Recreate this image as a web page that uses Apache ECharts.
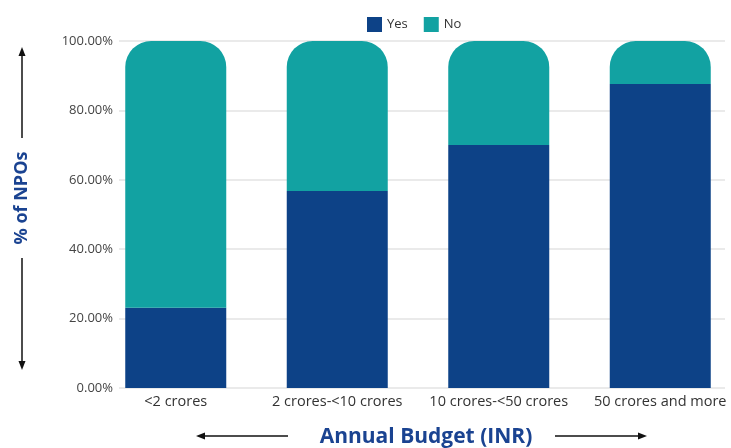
<!DOCTYPE html>
<html>
<head>
<meta charset="utf-8">
<script src="https://cdn.jsdelivr.net/npm/echarts@6/dist/echarts.min.js"></script>
<style>
  html, body { margin: 0; padding: 0; background: #fff; }
  #chart { width: 731px; height: 448px; }
</style>
</head>
<body>
<div id="chart"></div>
<script>
// Share of NPOs by annual budget band (percent)
const categories = ['<2 crores', '2 crores-<10 crores', '10 crores-<50 crores', '50 crores and more'];
const yesValues = [23.1, 56.8, 70.0, 87.6];
const noValues = [76.9, 43.2, 30.0, 12.4];
const yTicks = [0, 20, 40, 60, 80, 100];

const FONT = '"Open Sans", "Noto Sans", sans-serif';
const BLUE = '#0d4287';
const TEAL = '#12a2a2';
const TITLE = '#1a4391';

const chart = echarts.init(document.getElementById('chart'));

chart.setOption({
  animation: false,
  textStyle: { fontFamily: FONT },
  legend: {
    top: 12,
    left: 362,
    itemWidth: 15,
    itemHeight: 15,
    itemGap: 16,
    icon: 'rect',
    textStyle: { fontSize: 13, color: '#333', fontFamily: FONT },
    data: ['Yes', 'No']
  },
  grid: [
    // value grid: tick labels and gridlines
    { left: 119, right: 6, top: 41, bottom: 60, outerBoundsMode: 'none' },
    // band grid: bars and category labels
    { left: 95, width: 646, top: 41, bottom: 60, outerBoundsMode: 'none' }
  ],
  xAxis: [
    { gridIndex: 0, type: 'value', show: false },
    {
      gridIndex: 1,
      type: 'category',
      data: categories,
      axisLine: { show: false },
      axisTick: { show: false },
      axisLabel: {
        interval: 0,
        hideOverlap: false,
        fontSize: 14.5,
        color: '#333',
        margin: 6,
        fontFamily: FONT
      }
    }
  ],
  yAxis: [
    {
      gridIndex: 0,
      type: 'value',
      min: yTicks[0],
      max: yTicks[yTicks.length - 1],
      interval: 20,
      axisLine: { show: false },
      axisTick: { show: false },
      splitLine: { lineStyle: { color: '#e3e3e3', width: 1.5 } },
      axisLabel: {
        fontSize: 13,
        color: '#444',
        margin: 6,
        fontFamily: FONT,
        formatter: v => v.toFixed(2) + '%'
      }
    },
    {
      gridIndex: 1,
      type: 'value',
      min: yTicks[0],
      max: yTicks[yTicks.length - 1],
      show: false
    }
  ],
  series: [
    {
      name: 'Yes',
      type: 'bar',
      stack: 'share',
      xAxisIndex: 1,
      yAxisIndex: 1,
      barWidth: 101,
      itemStyle: { color: BLUE },
      data: yesValues
    },
    {
      name: 'No',
      type: 'bar',
      stack: 'share',
      xAxisIndex: 1,
      yAxisIndex: 1,
      barWidth: 101,
      itemStyle: { color: TEAL, borderRadius: [26, 26, 0, 0] },
      data: noValues
    }
  ],
  graphic: [
    // y-axis title with arrows above and below
    {
      type: 'text',
      x: 22, y: 198,
      rotation: Math.PI / 2,
      style: {
        text: '% of NPOs',
        font: 'bold 18px ' + FONT,
        fill: TITLE,
        align: 'center',
        verticalAlign: 'middle'
      }
    },
    {
      type: 'line',
      shape: { x1: 22, y1: 54, x2: 22, y2: 138 },
      style: { stroke: '#111', lineWidth: 1.5 }
    },
    {
      type: 'polygon',
      shape: { points: [[22, 47], [18.5, 56], [25.5, 56]] },
      style: { fill: '#111' }
    },
    {
      type: 'line',
      shape: { x1: 22, y1: 258, x2: 22, y2: 363 },
      style: { stroke: '#111', lineWidth: 1.5 }
    },
    {
      type: 'polygon',
      shape: { points: [[22, 370], [18.5, 361], [25.5, 361]] },
      style: { fill: '#111' }
    },
    // x-axis title with arrows left and right
    {
      type: 'text',
      x: 426, y: 437,
      style: {
        text: 'Annual Budget (INR)',
        font: 'bold 21px ' + FONT,
        fill: TITLE,
        align: 'center',
        verticalAlign: 'middle'
      }
    },
    {
      type: 'line',
      shape: { x1: 203, y1: 436, x2: 288, y2: 436 },
      style: { stroke: '#111', lineWidth: 1.5 }
    },
    {
      type: 'polygon',
      shape: { points: [[196, 436], [205, 432.5], [205, 439.5]] },
      style: { fill: '#111' }
    },
    {
      type: 'line',
      shape: { x1: 555, y1: 436, x2: 640, y2: 436 },
      style: { stroke: '#111', lineWidth: 1.5 }
    },
    {
      type: 'polygon',
      shape: { points: [[647, 436], [638, 432.5], [638, 439.5]] },
      style: { fill: '#111' }
    }
  ]
});
</script>
</body>
</html>
